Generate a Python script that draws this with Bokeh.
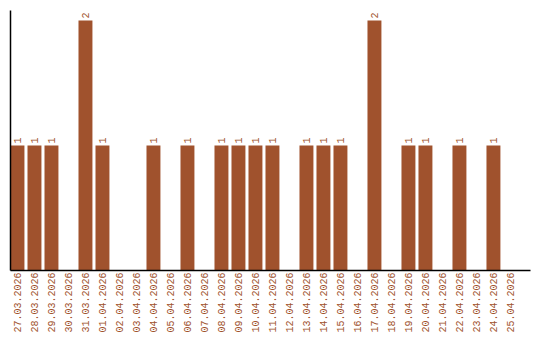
import math
from bokeh.plotting import figure
from bokeh.models import ColumnDataSource, Range1d, FixedTicker
from bokeh.core.properties import value
from bokeh.embed import file_html
from bokeh.resources import INLINE

dates = ["27.03.2026", "28.03.2026", "29.03.2026", "30.03.2026", "31.03.2026",
         "01.04.2026", "02.04.2026", "03.04.2026", "04.04.2026", "05.04.2026",
         "06.04.2026", "07.04.2026", "08.04.2026", "09.04.2026", "10.04.2026",
         "11.04.2026", "12.04.2026", "13.04.2026", "14.04.2026", "15.04.2026",
         "16.04.2026", "17.04.2026", "18.04.2026", "19.04.2026", "20.04.2026",
         "21.04.2026", "22.04.2026", "23.04.2026", "24.04.2026", "25.04.2026"]
counts = [1, 1, 1, 0, 2, 1, 0, 0, 1, 0, 1, 0, 1, 1, 1, 1, 0, 1, 1, 1,
          0, 2, 0, 1, 1, 0, 1, 0, 1, 0]

COLOR = "#A0522D"
FONT = "Liberation Mono"

idx = list(range(len(dates)))
src = ColumnDataSource(dict(x=idx, y=counts))
lab_src = ColumnDataSource(dict(
    x=[i for i, c in zip(idx, counts) if c > 0],
    y=[c for c in counts if c > 0],
    t=[str(c) for c in counts if c > 0]))

p = figure(width=540, height=340, x_range=Range1d(-0.41, 30.18),
           y_range=Range1d(0, 2.08), output_backend="svg", toolbar_location=None,
           min_border_left=10, min_border_right=10, min_border_top=10, min_border_bottom=70)
p.outline_line_color = None
p.grid.visible = False
p.background_fill_color = "white"

p.vbar(x="x", top="y", width=0.82, source=src, fill_color=COLOR, line_color=None)
p.text(x="x", y="y", text="t", source=lab_src, angle=math.pi / 2,
       text_align="left", text_baseline="middle", y_offset=-2,
       text_font=value(FONT), text_font_size="10px", text_color=COLOR)

xa = p.xaxis[0]
xa.ticker = FixedTicker(ticks=idx)
xa.major_label_overrides = {i: d for i, d in zip(idx, dates)}
xa.major_label_orientation = math.pi / 2
xa.major_label_text_font = FONT
xa.major_label_text_font_size = "10px"
xa.major_label_text_color = COLOR
xa.major_tick_line_color = None
xa.minor_tick_line_color = None
xa.major_tick_out = 0
xa.major_tick_in = 0
xa.major_label_standoff = 2
xa.axis_line_color = "black"
xa.axis_line_width = 1.5

ya = p.yaxis[0]
ya.ticker = FixedTicker(ticks=[])
ya.major_tick_line_color = None
ya.minor_tick_line_color = None
ya.major_label_standoff = 0
ya.axis_line_color = "black"
ya.axis_line_width = 1.5

open("out.html", "w").write(file_html(p, INLINE))
